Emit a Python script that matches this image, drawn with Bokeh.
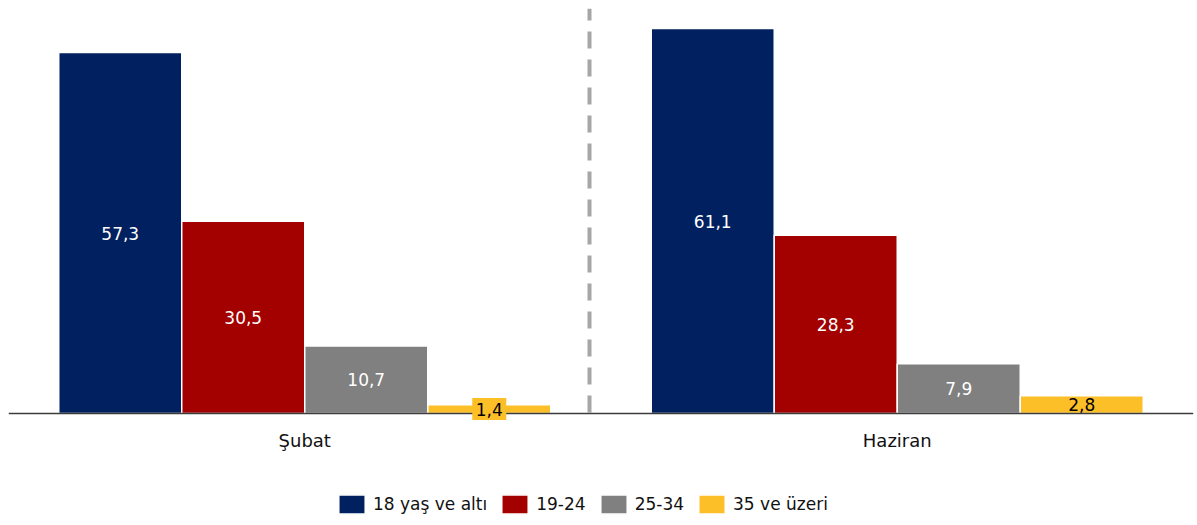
from bokeh.plotting import figure
from bokeh.models import (ColumnDataSource, FactorRange, Range1d, LabelSet, Legend,
                          LegendItem)
from bokeh.transform import dodge
from bokeh.core.properties import value
from bokeh.embed import file_html
from bokeh.resources import INLINE

categories = ["Şubat", "Haziran"]
series = ["18 yaş ve altı", "19-24", "25-34", "35 ve üzeri"]
age_18_under = [57.3, 61.1]
age_19_24 = [30.5, 28.3]
age_25_34 = [10.7, 7.9]
age_35_over = [1.4, 2.8]

values = [age_18_under, age_19_24, age_25_34, age_35_over]
colors = ["#002060", "#A30000", "#808080", "#FCBF28"]
label_colors = ["white", "white", "white", "black"]

FONT = "DejaVu Sans"
PX_PER_UNIT = 6.3
Y_TOP = 405 / PX_PER_UNIT
Y_BOTTOM = -104 / PX_PER_UNIT

p = figure(frame_width=1185, frame_height=509,
           x_range=FactorRange(factors=categories, range_padding=0),
           y_range=Range1d(Y_BOTTOM, Y_TOP),
           output_backend="svg", toolbar_location=None,
           x_axis_location=None, y_axis_location=None,
           min_border_left=8, min_border_right=2, min_border_top=8, min_border_bottom=0)
p.title.visible = False
p.xgrid.visible = False
p.ygrid.visible = False
p.outline_line_color = None
p.background_fill_color = "white"
p.border_fill_color = "white"

bar_w = 0.2076
offsets = [-1.5 * bar_w, -0.5 * bar_w, 0.5 * bar_w, 1.5 * bar_w]

def fmt(v):
    return f"{v:.1f}".replace(".", ",")

# divider between the two months (dashed, from baseline to top)
p.segment(x0=[0.9806], y0=[Y_TOP], x1=[0.9806], y1=[0], line_color="#A6A6A6",
          line_width=4, line_dash="17 11", line_dash_offset=5)

items = []
for name, vals, col, off in zip(series, values, colors, offsets):
    src = ColumnDataSource(dict(x=categories, top=vals))
    r = p.vbar(x=dodge("x", off, range=p.x_range), top="top", bottom=0, width=bar_w,
               source=src, fill_color=col, line_color="white", line_width=1.5)
    items.append(LegendItem(label=name, renderers=[r]))

# category baseline
p.hspan(y=[0], line_color="#3C3C3C", line_width=1.6)

# category labels under the baseline
cat_src = ColumnDataSource(dict(x=categories, y=[0] * len(categories), label=categories))
p.add_layout(LabelSet(x="x", y="y", text="label", source=cat_src, y_offset=-27,
                      text_align="center", text_baseline="middle", text_color="#111111",
                      text_font=value(FONT), text_font_size="18px"))

# value labels (small values get a box in the bar colour)
for name, vals, col, lcol, off in zip(series, values, colors, label_colors, offsets):
    small = [i for i, v in enumerate(vals) if v < 2]
    if small:
        bsrc = ColumnDataSource(dict(x=[categories[i] for i in small],
                                     mid=[vals[i] / 2 for i in small]))
        p.rect(x=dodge("x", off, range=p.x_range), y="mid", width=34, height=22,
               width_units="screen", height_units="screen", source=bsrc,
               fill_color=col, line_color=None)
    lsrc = ColumnDataSource(dict(x=categories, mid=[v / 2 for v in vals],
                                 label=[fmt(v) for v in vals]))
    p.add_layout(LabelSet(x=dodge("x", off, range=p.x_range), y="mid", text="label",
                          source=lsrc, text_align="center", text_baseline="middle",
                          text_color=lcol, text_font=value(FONT), text_font_size="17px"))

legend = Legend(items=items, orientation="horizontal", location=(327, 1),
                glyph_width=33, glyph_height=24, label_height=24, label_standoff=5,
                spacing=11, padding=0, margin=0, border_line_color=None,
                background_fill_alpha=0,
                label_text_font=FONT, label_text_font_size="17px",
                label_text_color="#111111")
p.add_layout(legend)

open("out.html", "w").write(file_html(p, INLINE))
